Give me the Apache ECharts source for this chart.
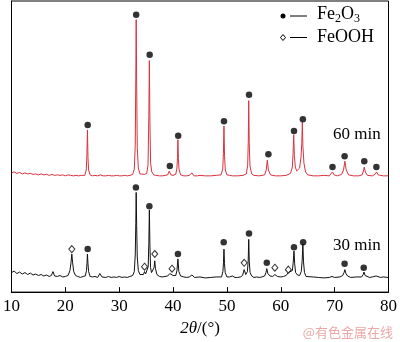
<!DOCTYPE html>
<html><head><meta charset="utf-8">
<script src="https://cdn.jsdelivr.net/npm/echarts@6/dist/echarts.min.js"></script>
<style>html,body{margin:0;padding:0;background:#fff}#c{width:400px;height:342px}</style>
</head><body><div id="c"></div>
<script>
// 2θ tick labels
const xTicks = [10, 20, 30, 40, 50, 60, 70, 80];
// 30 min trace (black) [2θ, intensity a.u.]
const trace30 = [
[10,20],[10.5,21.5],[11,19],[11.5,20.5],[12,18.5],[12.5,20],[13,18],[13.5,19.5],[14,17.5],[14.5,18.5],[15,17],[15.5,18],[16,16.5],[16.5,17.5],[17,16],[17.4,17],[17.7,21],[18,16.5],[18.5,16],[19,17],[19.5,15.5],[20,16],[20.5,17],[20.85,22],[21.05,30],[21.2,39],[21.35,30],[21.55,21],[21.9,17],[22.3,16],[22.8,15],[23.3,16],[23.7,16.5],[23.92,22],[24.02,30],[24.1,39],[24.2,29],[24.32,21],[24.6,16],[25,15.5],[25.5,16],[26,15],[26.4,19],[26.8,15.5],[27.5,15],[28,16],[28.5,15],[29,15.5],[29.5,15],[30,16],[30.5,15],[31,15.5],[31.5,15],[32,16],[32.5,17],[32.8,21],[32.98,38],[33.08,70],[33.15,102],[33.24,68],[33.35,36],[33.55,22],[33.85,18],[34.2,17],[34.5,18],[34.7,21],[34.9,18.5],[35.15,19],[35.38,26],[35.5,50],[35.6,84],[35.7,48],[35.82,25],[36.0,20],[36.3,19],[36.47,25],[36.6,32],[36.73,24],[37,18],[37.5,16],[38,15.5],[38.5,16],[39,16.5],[39.4,19],[39.7,17],[40,17],[40.5,17],[40.72,22],[40.9,34],[41.07,21],[41.4,16.5],[42,15.5],[42.5,15],[43,15.5],[43.5,17.5],[44,15],[45,15.5],[46,14.5],[47,15],[48,15.5],[49,15.5],[49.25,21],[49.36,30],[49.45,44],[49.55,29],[49.68,20],[50,15.5],[50.5,15.5],[51,16.5],[51.5,15],[52,15],[52.5,15.5],[52.9,17],[53.2,23],[53.5,18],[53.8,21],[53.95,32],[54.05,54],[54.15,31],[54.3,20],[54.6,16.5],[55,15],[55.5,15.5],[56,15],[56.5,15.5],[57,16.5],[57.25,20],[57.4,24],[57.6,19],[58,16.5],[58.5,16],[58.9,18],[59.4,16],[60,15.5],[60.5,16],[61,17],[61.4,20],[61.75,18],[62.15,22],[62.3,30],[62.45,42],[62.58,29],[62.75,20],[63.1,17.5],[63.5,17],[63.8,21],[63.97,32],[64.1,49],[64.22,31],[64.4,20],[64.7,16],[65,15],[66,15.5],[67,15],[68,14.5],[69,15],[69.5,16],[70,15],[71,15.5],[71.5,17],[71.75,20],[71.9,23],[72.1,19],[72.4,16.5],[73,15],[74,15.5],[75,15.5],[75.3,18],[75.45,20.5],[75.65,17],[76,15.5],[76.5,15],[77,15.5],[77.7,16.5],[78.5,15],[79,15.5],[80,15]
];
// 60 min trace (red)
const trace60 = [
[10,122],[10.5,123],[11,121.5],[11.5,122.5],[12,121],[12.5,122],[13,121],[13.5,121.5],[14,120.5],[14.5,121],[15,120],[15.5,121],[16,120],[16.5,120.5],[17,119.5],[17.5,120.5],[18,119.5],[18.5,120],[19,119.5],[19.5,120],[20,119],[20.5,120],[21,119.5],[21.5,119],[22,119.5],[22.5,119],[23,119.5],[23.6,119.5],[23.88,125],[24.0,140],[24.1,166],[24.2,138],[24.32,125],[24.6,120],[25,119],[25.5,119.5],[26,119],[26.5,120],[27,119],[27.5,119],[28,119.5],[28.5,119],[29,119],[29.5,119.5],[30,119],[30.5,119],[31,119.5],[31.5,119],[32,119.5],[32.5,120.5],[32.8,126],[32.98,150],[33.08,220],[33.15,279],[33.24,215],[33.35,148],[33.55,127],[33.85,121],[34.2,120],[34.7,120.5],[35.1,121.5],[35.35,130],[35.5,180],[35.6,237],[35.7,175],[35.83,132],[36.05,123],[36.4,120],[36.8,119.5],[37.5,119],[38,119],[38.5,119.5],[39,120],[39.3,124],[39.6,120],[40,119.5],[40.5,120.5],[40.72,127],[40.82,138],[40.9,156],[40.99,137],[41.1,126],[41.4,120],[42,119],[42.5,119],[43,119.5],[43.5,122],[43.9,119],[44.5,119],[45,119.5],[46,119],[47,119],[48,119.5],[48.9,120],[49.22,126],[49.35,142],[49.45,170],[49.55,140],[49.7,125],[50,120],[50.5,119.5],[51,119],[52,119],[53,119.5],[53.6,121],[53.85,130],[53.97,155],[54.05,196],[54.14,153],[54.28,129],[54.6,121],[55,119.5],[56,119],[57,120],[57.3,125],[57.5,135],[57.7,125],[58.1,120],[59,119],[60,119],[61,119.5],[61.8,121.5],[62.15,128],[62.28,142],[62.4,161],[62.52,140],[62.7,128],[62.95,124],[63.2,123],[63.5,127],[63.75,138],[63.9,152],[64.0,174],[64.1,150],[64.3,132],[64.6,123],[65,120],[66,119],[67,119],[68,119.5],[69,119],[69.3,120],[69.6,123],[69.9,120],[70.5,119],[71.3,120.5],[71.65,125],[71.9,134],[72.15,125],[72.6,120],[73.5,119],[74.5,119],[75.1,120],[75.35,124],[75.5,128],[75.7,123],[76.1,119.5],[77,119],[77.5,120.5],[77.8,123],[78.1,120],[79,119],[80,119]
];
// Fe2O3 markers (filled circles)
const fe2o3Marks = [
[24.15,171],[33.15,284],[35.65,243],[39.4,129],[40.95,160],[49.45,175],[54.1,202],[57.7,141],[62.45,165],[64.1,177],[69.6,128],[71.85,139],[75.5,134],[77.75,128],
[24.15,44],[33.1,107],[35.6,88],[40.9,39],[49.4,51],[54.1,60],[57.4,30],[62.45,46],[64.15,51],[71.85,29],[75.4,25]
];
// FeOOH markers (open diamonds)
const feoohMarks = [[21.2,44],[34.7,26],[36.6,39],[39.8,24],[53.2,30],[58.9,25],[61.4,23]];
const labels = ['60 min', '30 min'];

const serif = '"Liberation Serif", "Times New Roman", serif';
const chart = echarts.init(document.getElementById('c'), null, {renderer: 'canvas'});
chart.setOption({
  animation: false,
  grid: {left: 8, right: 8, top: 1, bottom: 43, show: true, borderColor: '#000', borderWidth: 1, backgroundColor: 'transparent'},
  xAxis: {
    type: 'value', min: 10, max: 80, interval: 10,
    name: '{i|2θ}/(°)', nameLocation: 'middle', nameGap: 25,
    nameTextStyle: {fontFamily: serif, fontSize: 17, color: '#000', rich: {i: {fontFamily: serif, fontSize: 17, fontStyle: 'italic', color: '#000'}}},
    axisLine: {show: true, lineStyle: {color: '#000', width: 1}},
    axisTick: {show: true, inside: true, length: 5, lineStyle: {color: '#000'}},
    axisLabel: {fontFamily: serif, fontSize: 17, color: '#000', margin: 6, formatter: v => xTicks.includes(v) ? String(v) : ''},
    splitLine: {show: false}
  },
  yAxis: {
    type: 'value', min: 0, max: 298,
    axisLine: {show: true, lineStyle: {color: '#000'}},
    axisTick: {show: false}, axisLabel: {show: false}, splitLine: {show: false}
  },
  series: [
    {type: 'line', data: trace60, showSymbol: false, lineStyle: {color: '#d8333f', width: 1}, z: 2},
    {type: 'line', data: trace30, showSymbol: false, lineStyle: {color: '#111', width: 1}, z: 2},
    {type: 'scatter', name: 'Fe2O3', data: fe2o3Marks, symbol: 'circle', symbolSize: 6.5, itemStyle: {color: '#000'}, z: 3},
    {type: 'scatter', name: 'FeOOH', data: feoohMarks, symbol: 'diamond', symbolSize: [6, 7], itemStyle: {color: '#fff', borderColor: '#000', borderWidth: 1}, z: 3}
  ],
  graphic: [
    {type: 'circle', shape: {cx: 283, cy: 16, r: 2.5}, style: {fill: '#000'}},
    {type: 'line', shape: {x1: 290, y1: 16, x2: 307, y2: 16}, style: {stroke: '#000', lineWidth: 1}},
    {type: 'text', left: 317, top: 5, style: {text: 'Fe{s|2}O{s|3}', font: '18px ' + serif, fill: '#000',
      rich: {s: {fontFamily: serif, fontSize: 12, padding: [9, 0, 0, 0], fill: '#000'}}}},
    {type: 'polygon', shape: {points: [[283, 34.5], [285.5, 37.5], [283, 40.5], [280.5, 37.5]]}, style: {fill: '#fff', stroke: '#000', lineWidth: 1}},
    {type: 'line', shape: {x1: 290, y1: 37.5, x2: 307, y2: 37.5}, style: {stroke: '#000', lineWidth: 1}},
    {type: 'text', left: 317, top: 28, style: {text: 'FeOOH', font: '18px ' + serif, fill: '#000'}},
    {type: 'text', left: 333, top: 126, style: {text: labels[0], font: '17px ' + serif, fill: '#000'}},
    {type: 'text', left: 333, top: 237, style: {text: labels[1], font: '17px ' + serif, fill: '#000'}},
    {type: 'text', right: 7, top: 326, style: {text: '@有色金属在线', font: '13px "Noto Sans CJK SC"', fill: '#eaa8a8'}}
  ]
});
</script>
</body></html>
